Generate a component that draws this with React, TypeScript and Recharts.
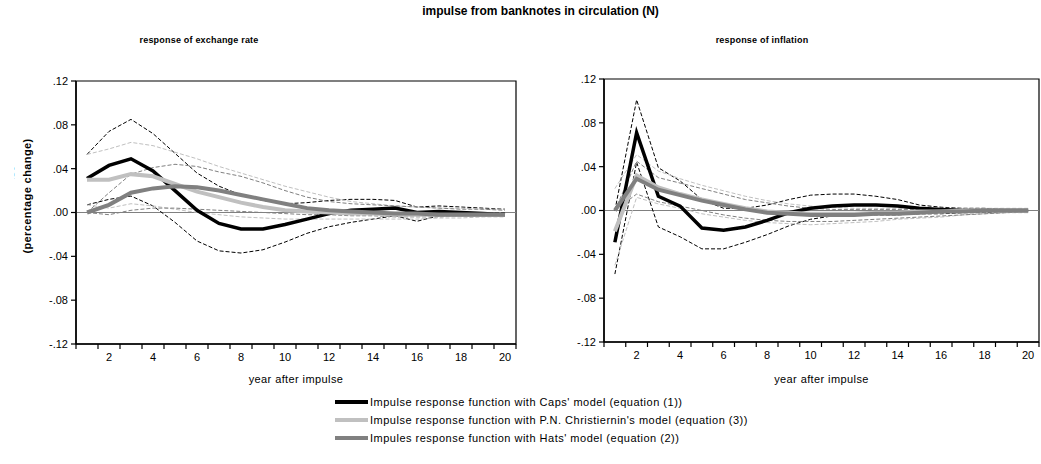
import { LineChart, Line, XAxis, YAxis, ReferenceLine, ReferenceArea } from "recharts";

const periods = [1, 2, 3, 4, 5, 6, 7, 8, 9, 10, 11, 12, 13, 14, 15, 16, 17, 18, 19, 20];
const xTicks = [0.5, 1.5, 2.5, 3.5, 4.5, 5.5, 6.5, 7.5, 8.5, 9.5, 10.5, 11.5, 12.5, 13.5, 14.5, 15.5, 16.5, 17.5, 18.5, 19.5, 20.5];
const yTicks = [-0.12, -0.08, -0.04, 0, 0.04, 0.08, 0.12];

// response of exchange rate
const erCaps = [0.031, 0.043, 0.049, 0.038, 0.02, 0.002, -0.01, -0.015, -0.015, -0.011, -0.006, -0.001, 0.002, 0.003, 0.004, 0.0, 0.001, 0.0, -0.001, -0.002];
const erCapsHi = [0.053, 0.074, 0.085, 0.072, 0.054, 0.036, 0.024, 0.016, 0.011, 0.008, 0.009, 0.011, 0.012, 0.012, 0.011, 0.005, 0.006, 0.005, 0.004, 0.003];
const erCapsLo = [0.007, 0.012, 0.015, 0.006, -0.009, -0.026, -0.035, -0.037, -0.034, -0.027, -0.019, -0.013, -0.009, -0.006, -0.003, -0.008, -0.003, -0.002, -0.001, 0.0];
const erChr = [0.03, 0.03, 0.035, 0.033, 0.026, 0.019, 0.014, 0.009, 0.005, 0.002, 0.001, 0.0, -0.001, -0.001, -0.002, -0.002, -0.002, -0.002, -0.002, -0.002];
const erChrHi = [0.053, 0.058, 0.064, 0.061, 0.055, 0.049, 0.042, 0.036, 0.03, 0.024, 0.019, 0.014, 0.01, 0.008, 0.006, 0.005, 0.004, 0.004, 0.003, 0.003];
const erChrLo = [0.007, 0.004, 0.008, 0.006, 0.003, 0.0, -0.002, -0.004, -0.005, -0.006, -0.006, -0.006, -0.006, -0.006, -0.006, -0.006, -0.005, -0.005, -0.004, -0.004];
const erHats = [0.0, 0.007, 0.018, 0.022, 0.024, 0.023, 0.02, 0.016, 0.012, 0.008, 0.004, 0.002, 0.001, 0.0, -0.001, -0.001, -0.002, -0.002, -0.002, -0.002];
const erHatsHi = [0.0, 0.018, 0.035, 0.041, 0.044, 0.042, 0.037, 0.033, 0.027, 0.02, 0.014, 0.01, 0.008, 0.007, 0.006, 0.005, 0.004, 0.003, 0.003, 0.002];
const erHatsLo = [0.0, -0.002, 0.002, 0.004, 0.004, 0.003, 0.002, 0.001, 0.0, -0.001, -0.002, -0.002, -0.003, -0.003, -0.004, -0.004, -0.004, -0.003, -0.003, -0.002];

// response of inflation
const infCaps = [-0.029, 0.071, 0.013, 0.004, -0.016, -0.018, -0.015, -0.009, -0.002, 0.002, 0.004, 0.005, 0.005, 0.004, 0.002, 0.001, 0.0, 0.0, 0.0, 0.0];
const infCapsHi = [0.0, 0.101, 0.039, 0.027, 0.01, 0.002, 0.002, 0.005, 0.01, 0.014, 0.015, 0.015, 0.013, 0.01, 0.005, 0.003, 0.002, 0.002, 0.001, 0.001];
const infCapsLo = [-0.058, 0.044, -0.015, -0.024, -0.035, -0.035, -0.029, -0.022, -0.014, -0.008, -0.005, -0.004, -0.004, -0.004, -0.003, -0.003, -0.002, -0.002, -0.001, -0.001];
const infChr = [-0.019, 0.032, 0.021, 0.015, 0.01, 0.006, 0.002, -0.001, -0.002, -0.003, -0.003, -0.003, -0.002, -0.002, -0.001, -0.001, 0.0, 0.0, 0.0, 0.0];
const infChrHi = [0.02, 0.051, 0.036, 0.029, 0.023, 0.018, 0.013, 0.009, 0.006, 0.004, 0.003, 0.002, 0.002, 0.002, 0.002, 0.002, 0.002, 0.002, 0.002, 0.002];
const infChrLo = [-0.05, 0.012, 0.006, 0.002, -0.003, -0.006, -0.009, -0.011, -0.012, -0.013, -0.012, -0.011, -0.01, -0.008, -0.007, -0.006, -0.004, -0.003, -0.002, -0.002];
const infHats = [0.0, 0.029, 0.019, 0.014, 0.009, 0.005, 0.001, -0.002, -0.003, -0.004, -0.004, -0.004, -0.003, -0.003, -0.002, -0.001, -0.001, 0.0, 0.0, 0.0];
const infHatsHi = [0.0, 0.045, 0.03, 0.025, 0.02, 0.015, 0.01, 0.007, 0.004, 0.002, 0.001, 0.001, 0.001, 0.001, 0.001, 0.001, 0.001, 0.001, 0.001, 0.001];
const infHatsLo = [0.0, 0.015, 0.008, 0.004, 0.0, -0.004, -0.007, -0.009, -0.01, -0.01, -0.01, -0.009, -0.008, -0.007, -0.006, -0.005, -0.004, -0.003, -0.002, -0.001];

const legendLabels = [
  "Impulse response function with Caps' model (equation (1))",
  "Impulse response function with P.N. Christiernin's model (equation (3))",
  "Impules response function with Hats' model (equation (2))",
];

const BLACK = "#000000";
const LIGHT = "#c0c0c0";
const MID = "#808080";
const FONT = "Arial, 'Liberation Sans', sans-serif";

const series = [
  { key: "capsHi", color: BLACK, width: 1, dash: "4 2" },
  { key: "capsLo", color: BLACK, width: 1, dash: "4 2" },
  { key: "chrHi", color: LIGHT, width: 1, dash: "4 2" },
  { key: "chrLo", color: LIGHT, width: 1, dash: "4 2" },
  { key: "hatsHi", color: MID, width: 1, dash: "4 2" },
  { key: "hatsLo", color: MID, width: 1, dash: "4 2" },
  { key: "caps", color: BLACK, width: 3.5, dash: undefined },
  { key: "chr", color: LIGHT, width: 4, dash: undefined },
  { key: "hats", color: MID, width: 4, dash: undefined },
];

function buildRows(cols: number[][]) {
  const keys = ["caps", "capsHi", "capsLo", "chr", "chrHi", "chrLo", "hats", "hatsHi", "hatsLo"];
  return periods.map((p, i) => {
    const row: any = { period: p };
    keys.forEach((k, j) => (row[k] = cols[j][i]));
    return row;
  });
}

const erData = buildRows([erCaps, erCapsHi, erCapsLo, erChr, erChrHi, erChrLo, erHats, erHatsHi, erHatsLo]);
const infData = buildRows([infCaps, infCapsHi, infCapsLo, infChr, infChrHi, infChrLo, infHats, infHatsHi, infHatsLo]);

const fmtY = (v: number) => {
  const s = Math.abs(v).toFixed(2).replace(/^0/, "");
  return v < -1e-9 ? "-" + s : s;
};

function makeXTick(half: number) {
  return (props: any) => {
    const { x, y, payload } = props;
    const lab = Math.round(payload.value + 0.5);
    return (
      <g>
        <line x1={x} y1={y} x2={x} y2={y + 5} stroke={BLACK} strokeWidth={1.2} />
        {lab % 2 === 0 && lab <= 20 ? (
          <text x={x + half} y={y + 17} textAnchor="middle" fontSize={11} fontFamily={FONT} fill={BLACK}>
            {lab}
          </text>
        ) : null}
      </g>
    );
  };
}

function Panel({ data, width, height, margin, yWidth }: any) {
  const plotW = width - margin.left - margin.right - yWidth;
  const half = plotW / 40;
  return (
    <LineChart width={width} height={height} data={data} margin={margin}>
      <XAxis
        dataKey="period"
        type="number"
        domain={[0.5, 20.5]}
        ticks={xTicks}
        interval={0}
        allowDataOverflow
        height={height - margin.top - margin.bottom - 263}
        tickSize={0}
        tickMargin={0}
        tickLine={false}
        axisLine={{ stroke: BLACK, strokeWidth: 1.5 }}
        tick={makeXTick(half)}
      />
      <YAxis
        type="number"
        domain={[-0.12, 0.12]}
        ticks={yTicks}
        interval={0}
        width={yWidth}
        tickFormatter={fmtY}
        tickSize={5}
        tickMargin={3}
        tickLine={{ stroke: BLACK, strokeWidth: 1.2 }}
        axisLine={{ stroke: BLACK, strokeWidth: 1.5 }}
        tick={{ fill: BLACK, fontSize: 11, fontFamily: FONT }}
      />
      <ReferenceArea x1={0.5} x2={20.5} y1={-0.12} y2={0.12} fill="none" stroke={BLACK} strokeWidth={1.2} />
      <ReferenceLine y={0} stroke={MID} strokeWidth={1.2} />
      {series.map((s) => (
        <Line
          key={s.key}
          type="linear"
          dataKey={s.key}
          stroke={s.color}
          strokeWidth={s.width}
          strokeDasharray={s.dash}
          dot={false}
          activeDot={false}
          isAnimationActive={false}
        />
      ))}
    </LineChart>
  );
}

const abs = (left: number, top: number, extra: any = {}) => ({ position: "absolute" as const, left, top, ...extra });

export default function App() {
  return (
    <div style={{ position: "absolute", left: 0, top: 0, width: 1041, height: 464, background: "#fff", fontFamily: FONT, color: BLACK, overflow: "hidden" }}>
      <div style={abs(0, 0)}>
        <Panel data={erData} width={530} height={400} margin={{ top: 81, right: 14, left: 0, bottom: 0 }} yWidth={76} />
      </div>
      <div style={abs(520, -2)}>
        <Panel data={infData} width={521} height={400} margin={{ top: 81, right: 2, left: 0, bottom: 0 }} yWidth={84} />
      </div>

      <div style={abs(0, 4, { width: 1041, textAlign: "center", fontSize: 12, fontWeight: "bold", paddingLeft: 40, boxSizing: "border-box" })}>
        impulse from banknotes in circulation (N)
      </div>
      <div style={abs(99, 35, { width: 200, textAlign: "center", fontSize: 9, fontWeight: "bold", letterSpacing: 0.2 })}>response of exchange rate</div>
      <div style={abs(662, 35, { width: 200, textAlign: "center", fontSize: 9, fontWeight: "bold", letterSpacing: 0.2 })}>response of inflation</div>

      <div style={abs(76, 373, { width: 440, textAlign: "center", fontSize: 11, letterSpacing: 0.4 })}>year after impulse</div>
      <div style={abs(604, 373, { width: 435, textAlign: "center", fontSize: 11, letterSpacing: 0.4 })}>year after impulse</div>

      <svg style={abs(0, 80)} width={40} height={240}>
        <defs>
          <clipPath id="ylabClip">
            <rect x={11} y={0} width={40} height={240} />
          </clipPath>
        </defs>
        <text
          transform="translate(14,110) rotate(-90)"
          textAnchor="middle"
          fontSize={11}
          fontWeight="bold"
          fontFamily={FONT}
          clipPath="url(#ylabClip)"
        >
          response
        </text>
        <text transform="translate(31,116) rotate(-90)" textAnchor="middle" fontSize={11} fontWeight="bold" fontFamily={FONT} letterSpacing={0.4}>
          (percentage change)
        </text>
      </svg>

      {legendLabels.map((lab, i) => {
        const col = [BLACK, LIGHT, MID][i];
        const top = 395 + i * 18;
        return (
          <div key={lab}>
            <div style={abs(335, top + 5, { width: 33, height: 4, background: col })} />
            <div style={abs(370, top, { fontSize: 11, letterSpacing: 0.5, whiteSpace: "nowrap", lineHeight: "14px" })}>{lab}</div>
          </div>
        );
      })}
    </div>
  );
}
